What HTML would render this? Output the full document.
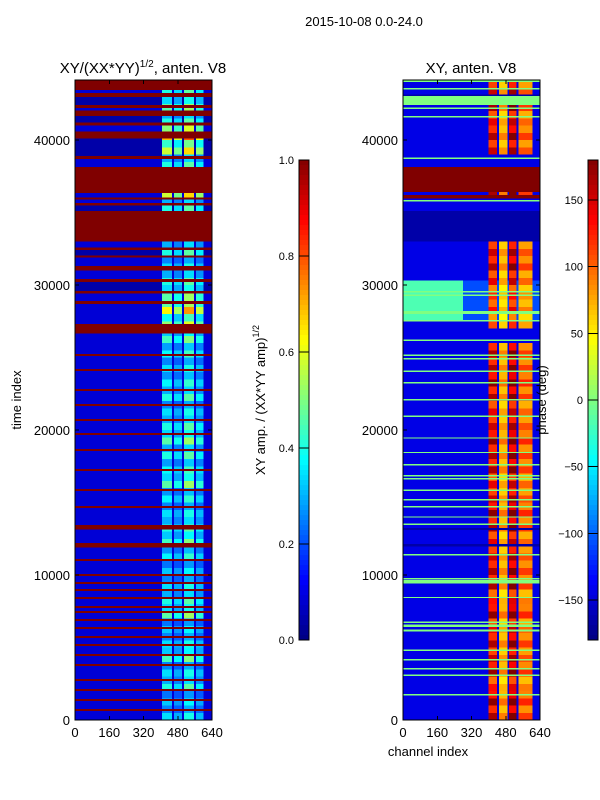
<!DOCTYPE html>
<html><head><meta charset="utf-8"><style>
body{margin:0;background:#fff;}
svg{display:block;font-family:"Liberation Sans","DejaVu Sans",sans-serif;}
</style></head><body>
<svg id="fig" width="600" height="800" viewBox="0 0 600 800" xmlns="http://www.w3.org/2000/svg" shape-rendering="crispEdges"></svg>
<script>
// ---- data ----
const xTicks=[0,160,320,480,640];
const yTicks=[0,10000,20000,30000,40000];
const cbAmpTicks=[0.0,0.2,0.4,0.6,0.8,1.0];
const cbPhaseTicks=[-150,-100,-50,0,50,100,150];
const leftRed=[[43450,44140],[42950,43250],[42200,42400],[41650,42050],[41000,41200],[40100,40600],[38700,38900],[36350,38150],[35900,36050],[35500,35650],[33000,35100],[32400,32600],[31900,32050],[31000,31300],[30200,30400],[29400,29600],[28700,28900],[26650,27300],
[25100,25250],[24070,24200],[22700,22830],[21650,21780],[20620,20750],[19650,19780],[18550,18680],[17170,17300],[15800,15930],[14620,14750],[13150,13450],[11900,12200],[10970,11100],[9930,10060],[9380,9510],[8900,9030],[8340,8470],[7720,7850],[7380,7510],[6830,6960],[6270,6400],[5650,5780],[5100,5230],[4410,4540],[3720,3850],[2690,2820],[2000,2130],[1310,1440],[620,750]];
const leftNavy=[[42400,42950],[41200,41650],[38900,40100],[35100,35500],[32050,32400],[29600,30200]];
const leftAct=[0.3,0.28,0.35,0.3,0.38,0.3,0.28,0.4,0.35,0.3,0.28,0.32,0.38,0.35,0.3,0.32,0.4,0.33,0.35,0.4,0.35,0.3,0.35,0.32,0.3,0.33,0.38,0.45,0.55,0.4,0.35,0.3,0.35,0.35,0.35,0.35,0.5,0.4,0.35,0.5,0.6,0.35,0.4,0.35,0.35];
const rightDarkRed=[[36400,38150],[35950,36200]];
const rightNavy=[[33000,35100],[11950,12150],[13100,13250],[43000,43150]];
const rightGreen=[[44000,44140],[43500,43600],[42750,43050],[42400,42800],[42150,42250],[41550,41650],[38700,38800],[35750,35850],[29500,29600],[29250,29350],[28000,28200],[27500,27600],[26150,26250],[25100,25200],[24850,24950],[24000,24100],[23200,23300],[22050,22150],[20900,21000],[19400,19500],[18400,18500],[17550,17650],[16800,16900],[16600,16700],[15800,15900],[15150,15250],[14650,14750],[13950,14050],[13450,13550],[11350,11450],[9700,9800],[9400,9650],[8400,8500],[6700,6800],[6400,6600],[6100,6250],[4750,4850],[4100,4200],[3500,3600],[3050,3150],[1700,1800]];
const rightGreenBlock=[[27600,30300]];
const rightAct=[150,160,120,155,140,150,130,160,120,150,150,140,130,150,160,140,130,150,150,160,140,130,150,160,150,150,0,100,120,110,130,150,140,0,0,0,150,0,0,140,150,130,150,140,60];
const colBands=[[406,453,1.0],[462,500,0.85],[509,556,1.15],[565,600,0.9]];
const rightCols=[[400,440,1.0],[448,488,0.55],[495,530,1.1],[540,605,0.7]];

const NS="http://www.w3.org/2000/svg";const svg=document.getElementById('fig');
function mk(tag,at,parent){const e=document.createElementNS(NS,tag);for(const k in at)e.setAttribute(k,at[k]);(parent||svg).appendChild(e);return e;}
function cl(v){return Math.max(0,Math.min(1,v));}
function jet(v){v=cl(v);const r=cl(1.5-Math.abs(4*v-3)),g=cl(1.5-Math.abs(4*v-2)),b=cl(1.5-Math.abs(4*v-1));return `rgb(${Math.round(r*255)},${Math.round(g*255)},${Math.round(b*255)})`;}
const YMAX=44140;
function yS(t){return 720-t*0.0145;}
function xL(c){return 75+c*137/640;}
function xR(c){return 403+c*137/640;}
function panel(name){const g=mk('g',{});return g;}
function band(g,xf,c0,c1,t0,t1,fill,nm){const r=mk('rect',{x:xf(c0),y:yS(t1),width:xf(c1)-xf(c0),height:yS(t0)-yS(t1),fill:fill},g);return r;}

// left
const gL=panel('amplitude-heatmap');
band(gL,xL,0,640,0,YMAX,jet(0.085),'background');
leftNavy.forEach(b=>band(gL,xL,0,640,b[0],b[1],jet(0.04),'navy-band'));
leftAct.forEach((v,i)=>{colBands.forEach(c=>{for(let s=0;s<2;s++){const t0=i*1000+s*500,t1=Math.min(t0+500,YMAX);const vv=v*c[2]*(s?0.85:1.15);band(gL,xL,c[0],c[1],t0,t1,jet(vv),'amp-cell');}});});
leftRed.forEach(b=>band(gL,xL,0,640,b[0],b[1],jet(1.0),'red-band'));
// right
const gR=panel('phase-heatmap');
band(gR,xR,0,640,0,YMAX,jet(0.1),'background');
rightGreenBlock.forEach(b=>{band(gR,xR,0,640,b[0],b[1],jet(0.2),'mixed-band');band(gR,xR,0,280,b[0],b[1],jet(0.45),'mixed-band');});
rightAct.forEach((v,i)=>{if(!v)return;rightCols.forEach(c=>{for(let s=0;s<2;s++){const t0=i*1000+s*500,t1=Math.min(t0+500,YMAX);const ph=Math.min(180,v*c[2]*(s?0.8:1.1));band(gR,xR,c[0],c[1],t0,t1,jet((ph+180)/360),'phase-cell');}});});
rightNavy.forEach(b=>band(gR,xR,0,640,b[0],b[1],jet(0.04),'navy-band'));
rightDarkRed.forEach(b=>band(gR,xR,0,640,b[0],b[1],jet(1.0),'darkred-band'));
rightGreen.forEach(b=>band(gR,xR,0,640,b[0],b[1],jet(0.5),'green-line'));

function axes(xf,x0,nm){
  const f=mk('rect',{x:x0,y:80,width:137,height:640,fill:'none',stroke:'#000','stroke-width':1});
  
  xTicks.forEach(t=>{const x=xf(t);mk('line',{x1:x,y1:720,x2:x,y2:716,stroke:'#000'});mk('line',{x1:x,y1:80,x2:x,y2:84,stroke:'#000'});
    const tx=mk('text',{x:x,y:737,'font-size':13,'text-anchor':'middle'});tx.textContent=t;});
  yTicks.forEach(t=>{const y=yS(t);mk('line',{x1:x0,y1:y,x2:x0+4,y2:y,stroke:'#000'});mk('line',{x1:x0+137,y1:y,x2:x0+133,y2:y,stroke:'#000'});
    const tx=mk('text',{x:x0-5,y:y+5,'font-size':13,'text-anchor':'end'});tx.textContent=t;});
}
axes(xL,75,'left');axes(xR,403,'right');

function cbar(x,ticks,lo,hi,nm,dec){
  const g=mk('g',{});
  for(let i=0;i<96;i++){mk('rect',{x:x,y:640-(i+1)*5,width:10,height:5,fill:jet((i+0.5)/96)},g);}
  mk('rect',{x:x,y:160,width:10,height:480,fill:'none',stroke:'#000'},g);
  ticks.forEach(t=>{const y=640-(t-lo)/(hi-lo)*480;mk('line',{x1:x,y1:y,x2:x+10,y2:y,stroke:'#000'},g);
    const tx=mk('text',{x:x-5,y:y+4,'font-size':11,'text-anchor':'end'},g);tx.textContent=dec?t.toFixed(1):String(t).replace('-','\u2212');});
}
cbar(299,cbAmpTicks,0,1,'amplitude-colorbar',true);
cbar(588,cbPhaseTicks,-180,180,'phase-colorbar',false);

function txt(s,at,nm){const t=mk('text',at);t.innerHTML=s;return t;}
txt('2015-10-08 0.0-24.0',{x:364,y:26,'font-size':13,'text-anchor':'middle'},'figure-title');
txt('XY/(XX*YY)<tspan dy="-6" font-size="10">1/2</tspan><tspan dy="6">, anten. V8</tspan>',{x:143,y:73,'font-size':15,'text-anchor':'middle'},'left-title');
txt('XY, anten. V8',{x:471,y:73,'font-size':15,'text-anchor':'middle'},'right-title');
txt('time index',{x:21,y:400,'font-size':13,'text-anchor':'middle',transform:'rotate(-90 21 400)'},'y-axis-title');
txt('channel index',{x:428,y:756,'font-size':13,'text-anchor':'middle'},'x-axis-title');
txt('XY amp. / (XX*YY amp)<tspan dy="-6" font-size="9">1/2</tspan>',{x:265,y:400,'font-size':13,'text-anchor':'middle',transform:'rotate(-90 265 400)'},'amplitude-colorbar-label');
txt('phase (deg)',{x:546,y:400,'font-size':13,'text-anchor':'middle',transform:'rotate(-90 546 400)'},'phase-colorbar-label');
</script>
</body></html>
